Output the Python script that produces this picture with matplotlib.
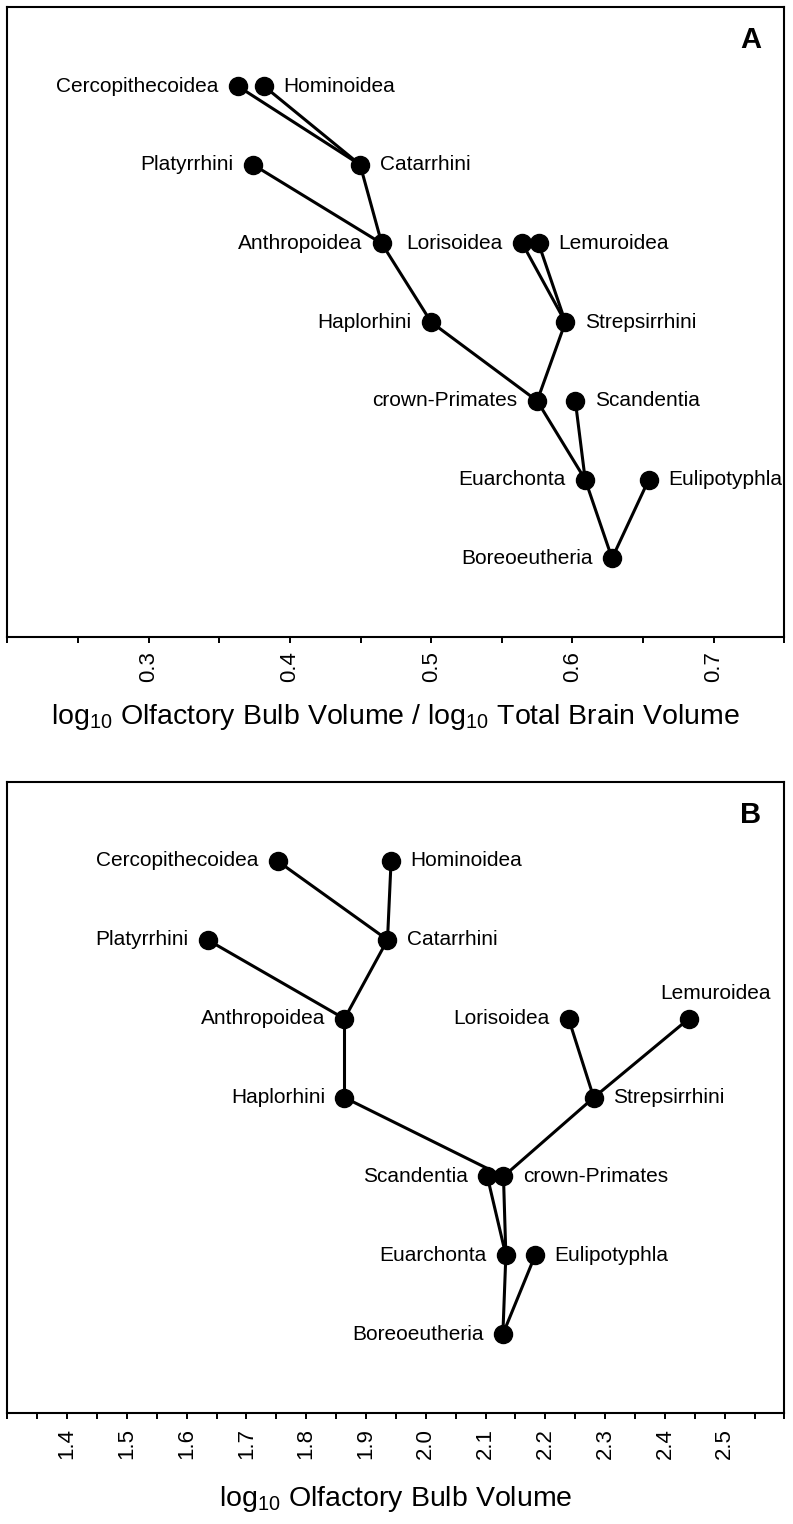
import numpy as np
import matplotlib
matplotlib.use("Agg")
import matplotlib.pyplot as plt
from matplotlib.ticker import FixedLocator, FormatStrFormatter

plt.rcParams['font.family'] = ['Liberation Sans', 'DejaVu Sans']
plt.rcParams['mathtext.default'] = 'regular'

# tree nodes (shared by both panels)
names = ["Boreoeutheria", "Euarchonta", "Eulipotyphla", "crown-Primates", "Scandentia",
         "Haplorhini", "Strepsirrhini", "Anthropoidea", "Lorisoidea", "Lemuroidea",
         "Platyrrhini", "Catarrhini", "Cercopithecoidea", "Hominoidea"]
parents = [None, "Boreoeutheria", "Boreoeutheria", "Euarchonta", "Euarchonta",
           "crown-Primates", "crown-Primates", "Haplorhini", "Strepsirrhini", "Strepsirrhini",
           "Anthropoidea", "Anthropoidea", "Catarrhini", "Catarrhini"]
levels = [0, 1, 1, 2, 2, 3, 3, 4, 4, 4, 5, 5, 6, 6]

# panel A: log10 OB volume / log10 total brain volume
ratio_vals = [0.628, 0.609, 0.654, 0.575, 0.602, 0.500, 0.595, 0.465, 0.5645, 0.576,
              0.374, 0.4497, 0.363, 0.3816]
sides_A = ["L", "L", "R", "L", "R", "L", "R", "L", "L", "R", "L", "R", "L", "R"]

# panel B: log10 OB volume
ob_vals = [2.129, 2.134, 2.183, 2.130, 2.103, 1.864, 2.281, 1.864, 2.239, 2.440,
           1.635, 1.936, 1.752, 1.942]
sides_B = ["L", "L", "R", "R", "L", "L", "R", "L", "L", "T", "L", "R", "L", "R"]


def draw_tree(ax, xvals, sides):
    pos = {n: (x, y) for n, x, y in zip(names, xvals, levels)}
    for n, p in zip(names, parents):
        if p is None:
            continue
        ax.plot([pos[p][0], pos[n][0]], [pos[p][1], pos[n][1]], color='black',
                lw=2.2, solid_capstyle='round', zorder=1)
    ax.plot(xvals, levels, 'o', color='black', ms=13, zorder=2)
    for n, x, y, s in zip(names, xvals, levels, sides):
        if s == "L":
            off, ha, va = (-14, 0), 'right', 'center'
        elif s == "R":
            off, ha, va = (14, 0), 'left', 'center'
        else:
            off, ha, va = (19, 18), 'center', 'center'
        ax.annotate(n, (x, y), xytext=off, textcoords='offset points',
                    ha=ha, va=va, fontsize=15)


def style_axis(ax, xlim, majors, minors, xlabel, letter, lpad):
    ax.set_xlim(*xlim)
    ax.set_ylim(-1, 7)
    ax.xaxis.set_major_locator(FixedLocator(majors))
    ax.xaxis.set_minor_locator(FixedLocator(minors))
    ax.xaxis.set_major_formatter(FormatStrFormatter('%.1f'))
    ax.tick_params(axis='x', which='both', direction='out', length=4.5, width=1.4)
    ax.tick_params(axis='x', which='major', labelsize=16, labelrotation=90, pad=6)
    ax.set_yticks([])
    for sp in ax.spines.values():
        sp.set_linewidth(1.5)
    ax.set_xlabel(xlabel, fontsize=20.5, labelpad=lpad)
    ax.text(0.957, 0.948, letter, transform=ax.transAxes, fontsize=21,
            fontweight='bold', ha='center', va='center')


fig = plt.figure(figsize=(7.93, 15.24), dpi=100)
axA = fig.add_axes([0.0092, 0.582, 0.980, 0.4132])
axB = fig.add_axes([0.0092, 0.0728, 0.980, 0.414])

draw_tree(axA, ratio_vals, sides_A)
style_axis(axA, (0.2, 0.75), np.arange(0.3, 0.71, 0.1), np.arange(0.2, 0.751, 0.05),
           r'log$_{10}$ Olfactory Bulb Volume / log$_{10}$ Total Brain Volume', 'A', 14)

draw_tree(axB, ob_vals, sides_B)
style_axis(axB, (1.3, 2.6), np.arange(1.4, 2.51, 0.1), np.arange(1.3, 2.601, 0.05),
           r'log$_{10}$ Olfactory Bulb Volume', 'B', 18)

fig.savefig("out.png", dpi=100)
